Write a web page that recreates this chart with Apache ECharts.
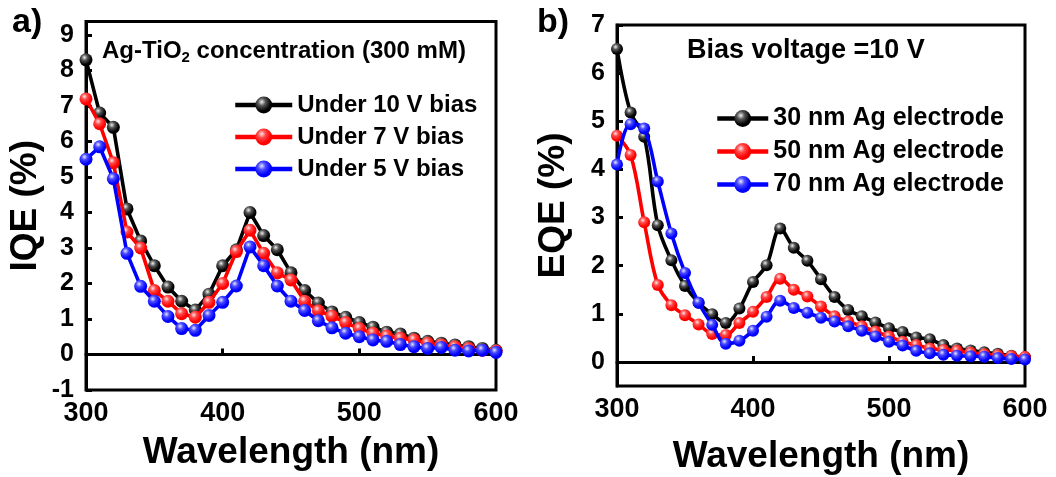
<!DOCTYPE html>
<html>
<head>
<meta charset="utf-8">
<script src="https://cdn.jsdelivr.net/npm/echarts@6/dist/echarts.min.js"></script>
<style>
  html, body { margin: 0; padding: 0; background: #fff; }
  #chart { width: 1056px; height: 477px; }
</style>
</head>
<body>
<div id="chart"></div>
<script>
// Wavelength grid shared by both panels (nm)
const wavelength = [300,310,320,330,340,350,360,370,380,390,400,410,420,430,440,450,460,470,480,490,500,510,520,530,540,550,560,570,580,590,600];

// Panel a) IQE (%) for Ag-TiO2 (300 mM) at three bias voltages
const iqe10V = [8.3,6.8,6.4,4.1,3.2,2.5,1.9,1.5,1.25,1.7,2.5,2.95,4.0,3.35,2.95,2.3,1.8,1.45,1.2,1.05,0.9,0.77,0.63,0.58,0.46,0.37,0.32,0.27,0.22,0.17,0.12];
const iqe7V  = [7.2,6.5,5.4,3.45,3.0,1.8,1.5,1.15,1.05,1.47,2.0,2.9,3.5,2.85,2.3,2.1,1.5,1.23,1.08,0.9,0.73,0.6,0.52,0.46,0.41,0.32,0.27,0.22,0.17,0.12,0.1];
const iqe5V  = [5.5,5.85,4.95,2.85,1.92,1.5,1.07,0.73,0.68,1.1,1.47,1.93,3.03,2.5,1.93,1.5,1.24,0.95,0.75,0.6,0.5,0.41,0.37,0.28,0.22,0.17,0.2,0.12,0.1,0.12,0.06];

// Panel b) EQE (%) at 10 V bias for three Ag electrode thicknesses
const eqe30nm = [6.5,5.18,4.68,2.84,2.11,1.58,1.23,0.99,0.81,1.11,1.66,2.01,2.77,2.37,2.1,1.72,1.35,1.08,0.95,0.82,0.7,0.62,0.51,0.47,0.35,0.28,0.24,0.2,0.17,0.13,0.1];
const eqe50nm = [4.7,4.3,2.9,1.6,1.18,0.97,0.78,0.58,0.56,0.81,1.04,1.35,1.73,1.5,1.36,1.15,0.95,0.84,0.74,0.63,0.53,0.42,0.35,0.28,0.25,0.23,0.19,0.16,0.14,0.12,0.1];
const eqe70nm = [4.1,4.94,4.85,3.75,2.67,1.85,1.23,0.77,0.38,0.44,0.65,0.94,1.27,1.12,1.02,0.92,0.84,0.74,0.65,0.53,0.42,0.34,0.23,0.18,0.15,0.13,0.12,0.11,0.08,0.06,0.05];

const iqeTicks = [-1,0,1,2,3,4,5,6,7,8,9];
const eqeTicks = [0,1,2,3,4,5,6,7];
const xTicks = [300,400,500,600];

const namesA = ['Under 10 V bias', 'Under 7 V bias', 'Under 5 V bias'];
const namesB = ['30 nm Ag electrode', '50 nm Ag electrode', '70 nm Ag electrode'];

const FONT = '"Liberation Sans", Arial, sans-serif';

// Shaded ball marker fill
function ball(highlight, mid, base) {
  return {
    type: 'radial', x: 0.38, y: 0.32, r: 0.72,
    colorStops: [
      { offset: 0, color: highlight },
      { offset: 0.32, color: mid },
      { offset: 0.75, color: base },
      { offset: 1, color: base }
    ]
  };
}
const palette = [
  { line: '#000000', fill: ball('#eeeeee', '#555555', '#000000') },
  { line: '#ff0000', fill: ball('#ffe6e6', '#ff4a4a', '#ff0000') },
  { line: '#0000ff', fill: ball('#e6e6ff', '#4a4aff', '#0000ff') }
];

function pairs(ys) { return wavelength.map((x, i) => [x, ys[i]]); }

function makeSeries(name, ys, k, gridIdx, smooth, size) {
  return {
    name: name,
    type: 'line',
    xAxisIndex: gridIdx,
    yAxisIndex: gridIdx,
    data: pairs(ys),
    smooth: smooth,
    symbol: 'circle',
    symbolSize: size,
    showAllSymbol: true,
    lineStyle: { color: palette[k].line, width: 3.6 },
    itemStyle: { color: palette[k].fill, borderWidth: 0 },
    emphasis: { disabled: true },
    z: 2 + k
  };
}

function xAxisOf(gridIdx, gap) {
  return {
    gridIndex: gridIdx, type: 'value', min: 300, max: 600, interval: 100,
    name: 'Wavelength (nm)', nameLocation: 'middle', nameGap: gap,
    nameTextStyle: { fontFamily: FONT, fontWeight: 'bold', fontSize: 37, color: '#000' },
    axisLine: { show: true, lineStyle: { color: '#000', width: 3 } },
    axisTick: { show: true, inside: true, length: 6, lineStyle: { color: '#000', width: 3 }, customValues: xTicks },
    axisLabel: { margin: 10, fontFamily: FONT, fontWeight: 'bold', fontSize: 27, color: '#000', customValues: xTicks },
    splitLine: { show: false }
  };
}

function yAxisOf(gridIdx, name, min, max, ticks, gap) {
  return {
    gridIndex: gridIdx, type: 'value', min: min, max: max,
    name: name, nameLocation: 'middle', nameGap: gap,
    nameTextStyle: { fontFamily: FONT, fontWeight: 'bold', fontSize: 37, color: '#000' },
    axisLine: { show: true, lineStyle: { color: '#000', width: 3 } },
    axisTick: { show: true, inside: true, length: 6, lineStyle: { color: '#000', width: 3 }, customValues: ticks },
    axisLabel: { margin: 12, fontFamily: FONT, fontWeight: 'bold', fontSize: 25, color: '#000', customValues: ticks },
    splitLine: { show: false }
  };
}

function legendOf(names, left, top, width, fontSize, gap) {
  return {
    data: names, orient: 'vertical', left: left, top: top,
    itemWidth: width, itemHeight: 21, itemGap: gap,
    selectedMode: false,
    lineStyle: { width: 4.5 },
    textStyle: { fontFamily: FONT, fontWeight: 'bold', fontSize: fontSize, color: '#000' }
  };
}

const chart = echarts.init(document.getElementById('chart'), null, { renderer: 'canvas' });

chart.setOption({
  animation: false,
  backgroundColor: '#fff',
  grid: [
    { left: 86, right: 560, top: 21.5, bottom: 87, outerBoundsMode: 'none', containLabel: false,
      show: true, borderColor: '#000', borderWidth: 3, backgroundColor: 'transparent' },
    { left: 617, right: 31, top: 25, bottom: 91, outerBoundsMode: 'none', containLabel: false,
      show: true, borderColor: '#000', borderWidth: 3, backgroundColor: 'transparent' }
  ],
  xAxis: [xAxisOf(0, 44), xAxisOf(1, 52)],
  yAxis: [
    yAxisOf(0, 'IQE (%)', -1, 9.38, iqeTicks, 42),
    yAxisOf(1, 'EQE (%)', -0.5, 7, eqeTicks, 45)
  ],
  legend: [
    legendOf(namesA, 228, 88, 57, 24, 8),
    legendOf(namesB, 710, 101, 51, 25, 8)
  ],
  series: [
    makeSeries(namesA[0], iqe10V, 0, 0, false, 13),
    makeSeries(namesA[1], iqe7V, 1, 0, false, 13),
    makeSeries(namesA[2], iqe5V, 2, 0, false, 13),
    makeSeries(namesB[0], eqe30nm, 0, 1, 0.35, 12),
    makeSeries(namesB[1], eqe50nm, 1, 1, 0.35, 12),
    makeSeries(namesB[2], eqe70nm, 2, 1, 0.35, 12)
  ],
  graphic: [
    { type: 'text', left: 12, top: 6,
      style: { text: 'a)', fontFamily: FONT, fontWeight: 'bold', fontSize: 34, fill: '#000' } },
    { type: 'text', left: 537, top: 6,
      style: { text: 'b)', fontFamily: FONT, fontWeight: 'bold', fontSize: 34, fill: '#000' } },
    { type: 'text', left: 102, top: 39,
      style: {
        text: '{t|Ag-TiO}{s|2}{t| concentration (300 mM)}',
        rich: {
          t: { fontFamily: FONT, fontWeight: 'bold', fontSize: 24, fill: '#000', color: '#000' },
          s: { fontFamily: FONT, fontWeight: 'bold', fontSize: 15, fill: '#000', color: '#000', padding: [14, 0, 0, 0] }
        }
      } },
    { type: 'text', left: 687, top: 37,
      style: { text: 'Bias voltage =10 V', fontFamily: FONT, fontWeight: 'bold', fontSize: 27, fill: '#000' } }
  ]
});
</script>
</body>
</html>
